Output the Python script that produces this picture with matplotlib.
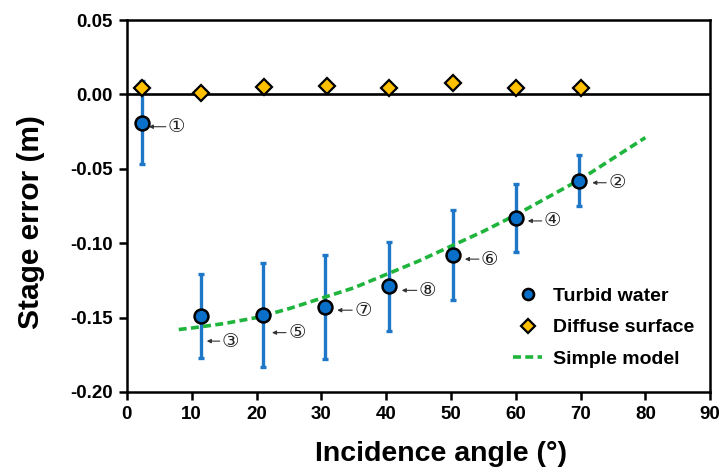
import matplotlib
matplotlib.use("Agg")
import matplotlib.pyplot as plt
from matplotlib.transforms import offset_copy
import numpy as np

plt.rcParams["font.family"] = ["Liberation Sans", "DejaVu Sans"]
plt.rcParams["axes.unicode_minus"] = False

# turbid water stage error, mean and error bar half-width (m)
turbid_angle = [2.3, 11.4, 21.0, 30.6, 40.4, 50.3, 60.0, 69.8]
turbid_error = [-0.019, -0.149, -0.148, -0.143, -0.129, -0.108, -0.083, -0.058]
turbid_spread = [0.028, 0.028, 0.035, 0.035, 0.030, 0.030, 0.023, 0.017]
turbid_labels = ["①", "③", "⑤", "⑦", "⑧", "⑥", "④", "②"]

# diffuse surface stage error (m)
diffuse_angle = [2.3, 11.4, 21.2, 30.8, 40.4, 50.3, 60.0, 70.0]
diffuse_error = [0.004, 0.001, 0.005, 0.006, 0.004, 0.008, 0.004, 0.004]

# simple model curve
model_angle = [8, 10, 15, 20, 25, 30, 35, 40, 45, 50, 55, 60, 65, 70, 75, 80]
model_error = [-0.158, -0.157, -0.154, -0.150, -0.144, -0.137, -0.130, -0.121,
               -0.112, -0.102, -0.092, -0.081, -0.069, -0.057, -0.043, -0.029]

y_ticks = [-0.20, -0.15, -0.10, -0.05, 0.00, 0.05]
y_tick_labels = ["-0.20", "-0.15", "-0.10", "-0.05", "0.00", "0.05"]

# label placement in pixels: (arrow tip dx, arrow tail dx, text dx, dy)
label_offsets = [(7, 24, 26, -4), (6, 19, 21, -25), (9, 23, 26, -18),
                 (12, 27, 29, -3), (13, 28, 30, -4), (12, 26, 28, -4),
                 (12, 26, 28, -3), (13, 27, 29, -2)]

fig = plt.figure(figsize=(7.21, 4.72), dpi=100)
ax = fig.add_axes([0.176, 0.1695, 0.809, 0.788])

ax.errorbar(turbid_angle, turbid_error, yerr=turbid_spread, fmt="none",
            ecolor="#1f77c8", elinewidth=2.4, capsize=2.5, capthick=2.4, zorder=2)
ax.axhline(0, color="black", lw=1.9, zorder=1)
ax.plot(model_angle, model_error, ls=(0, (2.2, 1.2)), color="#1fb43c", lw=2.6,
        label="Simple model", zorder=3)
ax.plot(turbid_angle, turbid_error, "o", ms=10, mfc="#0a6fc8", mec="black",
        mew=1.8, label="Turbid water", zorder=4)
ax.plot(diffuse_angle, diffuse_error, "D", ms=8.5, mfc="#ffc000", mec="black",
        mew=1.6, label="Diffuse surface", zorder=4)

for x, y, lab, (tip, tail, tx, dy) in zip(turbid_angle, turbid_error, turbid_labels, label_offsets):
    tip_tr = offset_copy(ax.transData, fig=fig, x=tip, y=dy, units="dots")
    tail_tr = offset_copy(ax.transData, fig=fig, x=tail, y=dy, units="dots")
    text_tr = offset_copy(ax.transData, fig=fig, x=tx, y=dy, units="dots")
    ax.annotate("", xy=(x, y), xycoords=tip_tr, xytext=(x, y), textcoords=tail_tr,
                arrowprops=dict(arrowstyle="-|>", color="#333333", lw=0.8,
                                mutation_scale=6, shrinkA=0, shrinkB=0))
    ax.text(x, y, lab, transform=text_tr, ha="left", va="center", fontsize=14,
            color="#222222", family=["DejaVu Sans", "Noto Sans CJK SC"])

ax.set_xlim(0, 90)
ax.set_ylim(-0.20, 0.05)
ax.set_xticks(np.arange(0, 91, 10))
ax.set_yticks(y_ticks)
ax.set_yticklabels(y_tick_labels)

for s in ax.spines.values():
    s.set_linewidth(1.8)
ax.tick_params(direction="out", length=6, width=1.8, labelsize=13.5, pad=4)
for lbl in ax.get_xticklabels() + ax.get_yticklabels():
    lbl.set_fontweight("bold")

ax.set_xlabel("Incidence angle (°)", fontsize=20.5, fontweight="bold")
ax.set_ylabel("Stage error (m)", fontsize=21.5, fontweight="bold")
ax.xaxis.set_label_coords(0.539, -0.133)
ax.yaxis.set_label_coords(-0.14, 0.457)

handles, labels = ax.get_legend_handles_labels()
order = [1, 2, 0]
leg = ax.legend([handles[i] for i in order], [labels[i] for i in order],
                loc="center left", bbox_to_anchor=(0.632, 0.173), frameon=False,
                prop={"weight": "bold", "size": 14}, handlelength=1.5,
                handletextpad=0.55, labelspacing=0.72, markerscale=0.8)

fig.savefig("out.png", dpi=100)
